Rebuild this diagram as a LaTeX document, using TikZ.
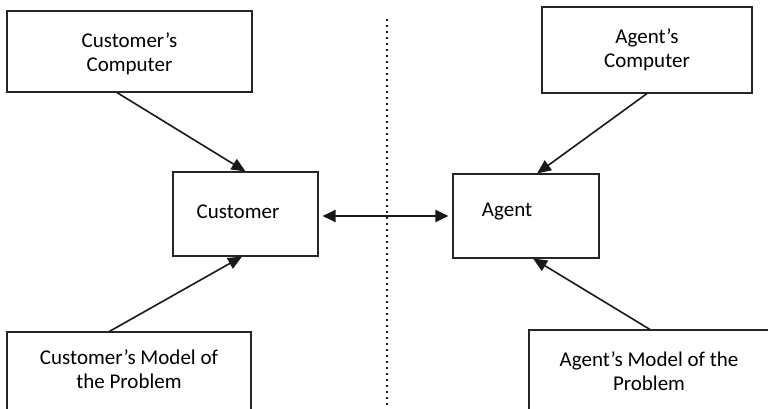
\documentclass[tikz,border=0pt]{standalone}
\usepackage{fontspec}
\setmainfont{Carlito}
\usetikzlibrary{arrows.meta,calc}
\begin{document}
\begin{tikzpicture}[x=1pt,y=-1pt,
  box/.style={draw=black!85,line width=1.1pt,rectangle,inner sep=0pt},
  lbl/.style={align=center,font=\fontsize{21}{24.5}\selectfont,inner sep=0pt},
  arr/.style={draw=black!90,line width=1.6pt,-{Triangle[length=14pt,width=12pt]}},
  darr/.style={draw=black!90,line width=2pt,{Triangle[length=13pt,width=12pt]}-{Triangle[length=13pt,width=12pt]}},
  dotline/.style={draw=black!90,line width=2pt,dash pattern=on 2pt off 4pt}]
\useasboundingbox (0,0) rectangle (768,409);
\clip (0,0) rectangle (768,409);
% boxes
\node[box,minimum width=245pt,minimum height=81pt] (cc) at (129.5,51.5) {};
\node[box,minimum width=210pt,minimum height=86pt] (ac) at (647,50) {};
\node[box,minimum width=145pt,minimum height=84pt] (cu) at (245.5,214) {};
\node[box,minimum width=146pt,minimum height=84pt] (ag) at (526,216) {};
\node[box,minimum width=244pt,minimum height=120pt] (cm) at (129,392) {};
\node[box,minimum width=271pt,minimum height=120pt] (am) at (664.5,390) {};
% texts
\node[lbl] (cct) at (129.5,54) {Customer’s\\Computer};
\node[lbl] (act) at (647,50) {Agent’s\\Computer};
\node[lbl] (cut) at (238,212) {Customer};
\node[lbl] (agt) at (507,212) {Agent};
\node[lbl] (cmt) at (129,369) {Customer’s Model of\\the Problem};
\node[lbl] (amt) at (649,371) {Agent’s Model of the\\Problem};
% divider
\coordinate (dtop) at (387,19);
\coordinate (dbot) at (387,412);
\draw[dotline] (dtop) -- (dbot);
% connectors
\draw[arr] ($(cc.south west)!0.449!(cc.south east)$) -- (cu.north);
\draw[arr] (ac.south) -- ($(ag.north west)!0.575!(ag.north east)$);
\draw[arr] ($(cm.north west)!0.42!(cm.north east)$) -- ($(cu.south west)!0.476!(cu.south east)$);
\draw[arr] ($(am.north west)!0.4465!(am.north east)$) -- ($(ag.south west)!0.548!(ag.south east)$);
\draw[darr,shorten <=4pt,shorten >=4pt] ([yshift=-2pt]cu.east) -- ([yshift=-2pt]cu.east -| ag.west);
\end{tikzpicture}
\end{document}
